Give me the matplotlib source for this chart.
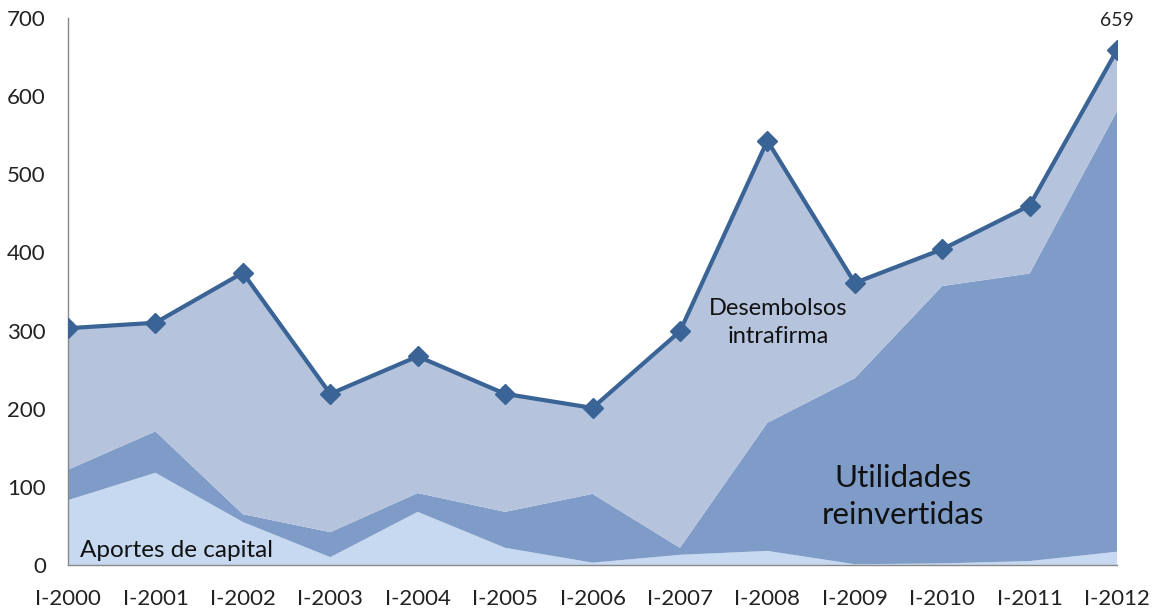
import matplotlib.pyplot as plt
import numpy as np

plt.rcParams['font.family'] = ['Lato', 'DejaVu Sans']

periodos = ['I-2000', 'I-2001', 'I-2002', 'I-2003', 'I-2004', 'I-2005', 'I-2006',
            'I-2007', 'I-2008', 'I-2009', 'I-2010', 'I-2011', 'I-2012']
aportes = [83, 118, 55, 10, 68, 22, 3, 13, 18, 1, 2, 5, 17]
utilidades = [39, 53, 10, 32, 24, 46, 88, 9, 164, 238, 355, 368, 564]
desembolsos = [181, 139, 309, 177, 175, 151, 110, 277, 361, 122, 47, 87, 78]

x = np.arange(len(periodos))
total = np.array(aportes) + np.array(utilidades) + np.array(desembolsos)

fig = plt.figure(figsize=(11.53, 6.10), dpi=100)
ax = fig.add_axes([0.059, 0.0738, 0.9098, 0.8967])

ax.stackplot(x, aportes, utilidades, desembolsos,
             colors=['#C6D9F0', '#7E9CC7', '#B5C3DD'], linewidth=0)
ax.plot(x, total, color='#3A6396', lw=3, marker='D', markersize=10, zorder=5)

ax.annotate(str(total[-1]), (x[-1], total[-1]), xytext=(0, 15), textcoords='offset points',
            ha='center', va='bottom', fontsize=14, color='#222222')

ax.text(0.14, 19, 'Aportes de capital', fontsize=17.5, color='#111111', ha='left', va='center')
ax.text(8.12, 310, 'Desembolsos\nintrafirma', fontsize=17, color='#111111', ha='center',
        va='center', linespacing=1.4)
ax.text(9.55, 88, 'Utilidades\nreinvertidas', fontsize=22.5, color='#111111', ha='center',
        va='center', linespacing=1.38)

ax.set_xlim(0, 12)
ax.set_ylim(0, 700)
ax.set_yticks(range(0, 701, 100))
ax.set_xticks(x)
ax.set_xticklabels(periodos)
ax.tick_params(length=0, labelsize=16, colors='#222222')
ax.tick_params(axis='x', pad=17)
ax.tick_params(axis='y', pad=16)
for s in ['top', 'right']:
    ax.spines[s].set_visible(False)
for s in ['left', 'bottom']:
    ax.spines[s].set_color('#888888')
    ax.spines[s].set_linewidth(1)

fig.savefig('out.png', dpi=100)
